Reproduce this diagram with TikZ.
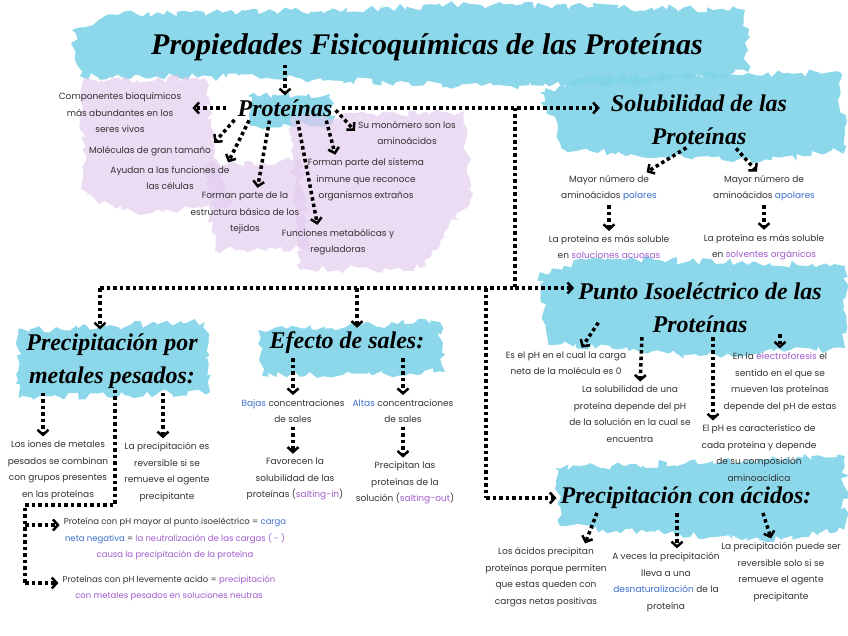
\documentclass[tikz,border=0pt]{standalone}
\usepackage{fontspec}
\setmainfont{Poppins}
\newfontfamily\titulofont{Liberation Serif}
\usetikzlibrary{
  arrows.meta, % For arrow tips
  calc, % For coordinate calculations
  decorations.pathmorphing, % For ragged highlight blobs
  positioning
}

\definecolor{celeste}{RGB}{128,212,232}
\definecolor{lila}{RGB}{226,204,238}
\definecolor{azultxt}{RGB}{60,110,205}
\definecolor{moradotxt}{RGB}{160,90,205}
\definecolor{tinta}{RGB}{50,50,50}

\newcommand{\az}[1]{\textcolor{azultxt}{#1}}
\newcommand{\mo}[1]{\textcolor{moradotxt}{#1}}

\begin{document}
\begin{tikzpicture}[
      x=1pt, y=-1pt, % pixel-like coordinates
      titulo/.style={font=\titulofont\bfseries\itshape\fontsize{30}{32}\selectfont, inner sep=1pt},
      tema/.style={font=\titulofont\bfseries\itshape\fontsize{24}{33}\selectfont, align=center, inner sep=1pt},
      texto/.style={font=\fontsize{9}{16.5}\selectfont, text=tinta, align=center, inner sep=1pt},
      textochico/.style={texto, font=\fontsize{8.5}{16.5}\selectfont},
      punteo/.style={line width=3.5pt, dash pattern=on 3.5pt off 3pt}, % dotted connector
      flecha/.style={punteo, -{Straight Barb[length=5pt, width=11pt, line width=2.5pt]}, shorten <=3pt, shorten >=3pt},
      mancha/.style={decorate, decoration={random steps, segment length=5pt, amplitude=4pt}},
      azulada/.style={fill=celeste, opacity=.9, mancha},
      lilosa/.style={fill=lila, opacity=.7, mancha},
    ]
    \useasboundingbox (0,0) rectangle (848,636);
    \pgfmathsetseed{11}

    % Manchas celestes
    \fill[azulada] (72,30) -- (120,14) -- (330,10) -- (470,4) -- (745,10) -- (748,72) -- (640,84) -- (460,86) -- (330,80) -- (300,78) -- (80,76) -- cycle;
    \fill[azulada] (248,96) -- (330,94) -- (332,124) -- (252,126) -- cycle;
    \fill[azulada] (540,92) -- (600,76) -- (840,72) -- (845,150) -- (760,162) -- (565,150) -- cycle;
    \fill[azulada] (540,272) -- (600,258) -- (845,266) -- (845,348) -- (700,356) -- (548,342) -- cycle;
    \fill[azulada] (555,468) -- (845,456) -- (845,530) -- (760,540) -- (560,526) -- cycle;
    \fill[azulada] (18,330) -- (205,322) -- (210,392) -- (20,398) -- cycle;
    \fill[azulada] (258,330) -- (440,322) -- (445,372) -- (262,376) -- cycle;

    % Manchas lilas
    \fill[lilosa] (82,80) -- (205,78) -- (215,150) -- (232,205) -- (140,215) -- (85,195) -- cycle;
    \fill[lilosa] (205,165) -- (300,160) -- (310,248) -- (215,250) -- cycle;
    \fill[lilosa] (290,118) -- (465,112) -- (470,200) -- (420,268) -- (300,270) -- cycle;

    % Títulos
    \node[titulo] (tit) at (427,47) {Propiedades Fisicoquímicas de las Proteínas};
    \node[tema] (prot) at (285,108) {Proteínas};
    \node[tema] (sol) at (699,120) {Solubilidad de las\\Proteínas};
    \node[tema] (pi) at (700,308) {Punto Isoeléctrico de las\\Proteínas};
    \node[tema] (acid) at (686,498) {Precipitación con ácidos:};
    \node[tema] (met) at (112,361) {Precipitación por\\metales pesados:};
    \node[tema] (sal) at (347,343) {Efecto de sales:};

    % Proteínas
    \node[texto] (comp) at (120,113) {Componentes bioquímicos\\más abundantes en los\\seres vivos};
    \node[texto] (molec) at (150,151) {Moléculas de gran tamaño};
    \node[texto] (ayud) at (170,178) {Ayudan a las funciones de\\las células};
    \node[texto] (tejid) at (245,213) {Forman parte de la\\estructura básica de los\\tejidos};
    \node[texto] (metab) at (338,242) {Funciones metabólicas y\\reguladoras};
    \node[texto] (inmun) at (366,180) {Forman parte del sistema\\inmune que reconoce\\organismos extraños};
    \node[texto] (monom) at (407,133) {Su monómero son los\\aminoácidos};

    % Solubilidad
    \node[texto] (polar) at (609,188) {Mayor número de\\aminoácidos \az{polares}};
    \node[texto] (apolar) at (764,188) {Mayor número de\\aminoácidos \az{apolares}};
    \node[texto] (acuo) at (609,247) {La proteína es más soluble\\en \mo{soluciones acuosas}};
    \node[texto] (organ) at (764,247) {La proteína es más soluble\\en \mo{solventes orgánicos}};

    % Punto isoeléctrico
    \node[texto] (carga) at (566,363) {Es el pH en el cual la carga\\neta de la molécula es 0};
    \node[texto] (solph) at (630,414) {La solubilidad de una\\proteína depende del pH\\de la solución en la cual se\\encuentra};
    \node[texto] (caract) at (759,453) {El pH es característico de\\cada proteína y depende\\de su composición\\aminoacídica};
    \node[texto] (electro) at (780,382) {En la \mo{electroforesis} el\\sentido en el que se\\mueven las proteínas\\depende del pH de estas};

    % Ácidos
    \node[texto] (acpos) at (546,577) {Los ácidos precipitan\\proteínas porque permiten\\que estas queden con\\cargas netas positivas};
    \node[texto] (desnat) at (666,582) {A veces la precipitación\\lleva a una\\\az{desnaturalización} de la\\proteína};
    \node[texto] (revers) at (781,572) {La precipitación puede ser\\reversible solo si se\\remueve el agente\\precipitante};

    % Metales pesados
    \node[texto] (iones) at (58,470) {Los iones de metales\\pesados se combinan\\con grupos presentes\\en las proteínas};
    \node[texto] (revmet) at (167,472) {La precipitación es\\reversible si se\\remueve el agente\\precipitante};
    \node[textochico] (negat) at (175,539) {Proteína con pH mayor al punto isoeléctrico = \az{carga}\\\az{neta negativa} = \mo{la neutralización de las cargas ( - )}\\\mo{causa la precipitación de la proteína}};
    \node[textochico] (acido) at (169,588) {Proteínas con pH levemente acido = \mo{precipitación}\\\mo{con metales pesados en soluciones neutras}};

    % Sales
    \node[texto] (bajas) at (293,411) {\az{Bajas} concentraciones\\de sales};
    \node[texto] (altas) at (403,411) {\az{Altas} concentraciones\\de sales};
    \node[texto] (favor) at (295,479) {Favorecen la\\solubilidad de las\\proteínas (\mo{salting-in})};
    \node[texto] (precip) at (405,483) {Precipitan las\\proteínas de la\\solución (\mo{salting-out})};

    % Puntos de unión
    \coordinate (j1) at (515,108);
    \coordinate (j2) at (515,288);
    \coordinate (jl) at (100,288);
    \coordinate (jm) at (357,288);
    \coordinate (jr) at (486,288);
    \coordinate (ja) at (486,498);
    \coordinate (m1) at (115,505);
    \coordinate (m2) at (25,505);
    \coordinate (m3) at (25,583);
    \coordinate (m4) at (25,525);

    % Flechas principales
    \draw[flecha] (prot.north |- tit.south) -- (prot.north);
    \draw[flecha, shorten <=8pt, shorten >=10pt] (prot.east) -- (prot.east -| sol.west);
    \draw[punteo] (j1) -- (j2);
    \draw[punteo] (jl) -- (j2);
    \draw[flecha, shorten <=0pt] (j2) -- (j2 -| pi.west);
    \draw[flecha, shorten <=0pt] (jl) -- (jl |- met.north);
    \draw[flecha, shorten <=0pt] (jm) -- (jm |- sal.north);
    \draw[punteo] (jr) -- (ja);
    \draw[flecha, shorten <=0pt] (ja) -- (acid.west);

    % Flechas de Proteínas
    \draw[flecha, shorten <=10pt, shorten >=10pt] (prot.west) -- (comp.east |- prot.west);
    \draw[flecha] (prot.south west) -- (molec.north east);
    \draw[flecha] ([xshift=14pt]prot.south west) -- ([xshift=-4pt]ayud.north east);
    \draw[flecha] ([xshift=-15pt]prot.south) -- ([xshift=12pt]tejid.north);
    \draw[flecha] ([xshift=12pt]prot.south) -- ([xshift=-20pt]metab.north);
    \draw[flecha] ([xshift=-8pt]prot.south east) -- ([xshift=-30pt]inmun.north);
    \draw[flecha] (prot.east) -- (monom.west);

    % Flechas de Solubilidad
    \draw[flecha] ([xshift=-10pt]sol.south) -- ([xshift=35pt]polar.north);
    \draw[flecha] ([xshift=35pt]sol.south) -- ([xshift=-5pt]apolar.north);
    \draw[flecha] (polar) -- (acuo);
    \draw[flecha] (apolar) -- (organ);

    % Flechas de Punto isoeléctrico
    \draw[flecha] ($(pi.south)+(-100,-14)$) -- ([xshift=14pt]carga.north);
    \draw[flecha] ([xshift=-58pt]pi.south) -- ([xshift=10pt]solph.north);
    \draw[flecha] ([xshift=13pt]pi.south) -- ([xshift=13pt]pi.south |- caract.north);
    \draw[flecha, shorten <=0pt] (electro.north |- pi.south) -- (electro.north);

    % Flechas de Ácidos
    \draw[flecha] ([xshift=-88pt]acid.south) -- ([xshift=38pt]acpos.north);
    \draw[flecha] ([xshift=-9pt]acid.south) -- ([xshift=11pt]desnat.north);
    \draw[flecha] ([xshift=76pt]acid.south) -- ([xshift=-9pt]revers.north);

    % Flechas de Metales pesados
    \draw[flecha] ([xshift=-69pt]met.south) -- ([xshift=-15pt]iones.north);
    \draw[flecha] ([xshift=51pt]met.south) -- ([xshift=-4pt]revmet.north);
    \draw[punteo] ([xshift=3pt]met.south) -- (m1) -- (m2) -- (m3);
    \draw[flecha, shorten <=0pt] (m4) -- (m4 -| negat.west);
    \draw[flecha, shorten <=0pt] (m3) -- (m3 -| acido.west);

    % Flechas de Sales
    \draw[flecha] ([xshift=-54pt]sal.south) -- (bajas.north);
    \draw[flecha] (altas.north |- sal.south) -- (altas.north);
    \draw[flecha] (bajas.south) -- (bajas.south |- favor.north);
    \draw[flecha] (altas.south) -- (altas.south |- precip.north);

\end{tikzpicture}
\end{document}
